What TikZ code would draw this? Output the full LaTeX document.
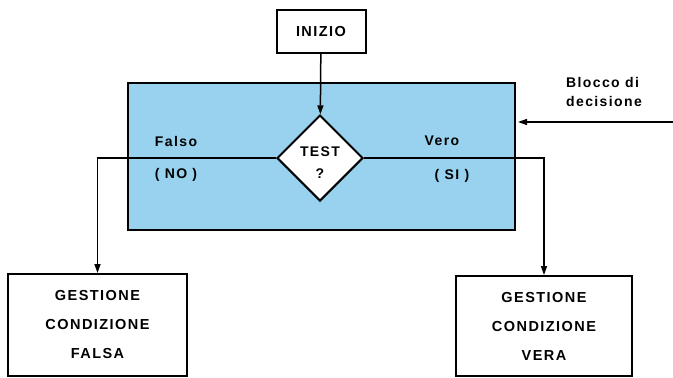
\documentclass[tikz,border=0pt]{standalone}
\usepackage{fontspec}
\setmainfont{Liberation Sans}
\newfontfamily\lettering[LetterSpace=10]{Liberation Sans}
\usetikzlibrary{arrows.meta,positioning,shapes.geometric}
\definecolor{azzurro}{RGB}{152,210,238}

\begin{document}
\begin{tikzpicture}[
		x=1pt,y=-1pt,
		blocco/.style={
			rectangle,
			draw=black,
			line width=2pt,
			fill=white,
			align=center,
			font=\lettering\bfseries\fontsize{14.5}{29}\selectfont
		},
		test/.style={
			diamond,
			draw=black,
			line width=2pt,
			fill=white,
			inner sep=0pt,
			minimum width=86pt,
			minimum height=86pt
		},
		etichetta/.style={font=\lettering\bfseries\fontsize{14}{14}\selectfont, inner sep=0pt},
		freccia/.style={-{Triangle[length=9pt,width=6pt]},line width=1.5pt,draw=black}
		]
		\useasboundingbox (0,0) rectangle (673,378);
		% blocco di decisione
		\node[draw=black, line width=1.8pt, fill=azzurro, minimum width=387pt, minimum height=147pt] (zona) at (321.5,156.5) {};
		\node[blocco, minimum width=89pt, minimum height=43pt] (inizio) at (321,31.5) {INIZIO};
		\node[test] (decisione) at (320,158) {};
		\node[etichetta] (domanda) at (320,152) {TEST};
		\node[etichetta] (punto) at (320,174) {?};
		\node[blocco, minimum width=179pt, minimum height=102pt] (falsa) at (97.5,325) {GESTIONE\\CONDIZIONE\\FALSA};
		\node[blocco, minimum width=176pt, minimum height=100pt] (vera) at (544,326) {GESTIONE\\CONDIZIONE\\VERA};
		
		\node[etichetta] (falso) at (176,141) {Falso};
		\node[etichetta] (no) at (176,175) {( NO )};
		\node[etichetta] (vero) at (442,141) {Vero};
		\node[etichetta] (si) at (452,176) {( SI )};
		\node[etichetta, align=left] (nota) at (604,92) {Blocco di\\[5pt]decisione};
		\coordinate (bordo) at (673,122);
		\coordinate (punta) at (518,122);
		
		\draw[freccia] (inizio) -- (decisione);
		\draw[freccia] (decisione.west) -| (falsa.north);
		\draw[freccia] (decisione.east) -| (vera.north);
		\draw[freccia] (bordo) -- (punta);
\end{tikzpicture}
\end{document}
